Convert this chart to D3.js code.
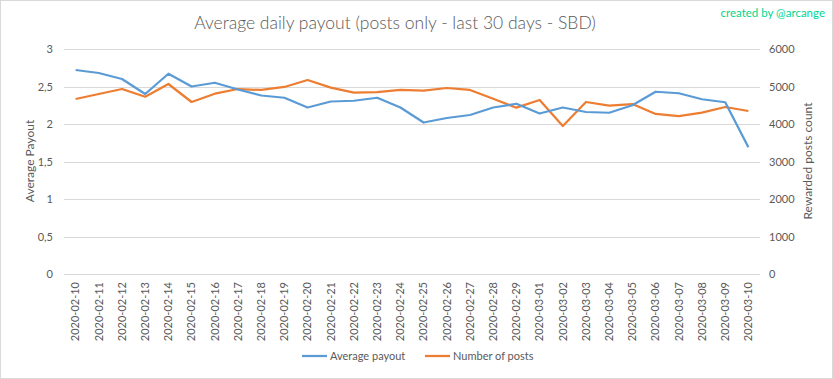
<!DOCTYPE html>
<html><head><meta charset="utf-8">
<script src="https://cdn.jsdelivr.net/npm/d3@7"></script>
<style>body{margin:0;background:#fff}svg{display:block;font-family:Lato,"Open Sans",sans-serif}</style>
</head><body><svg id="c" width="833" height="379"></svg>
<script>
const dates=["2020-02-10","2020-02-11","2020-02-12","2020-02-13","2020-02-14","2020-02-15","2020-02-16","2020-02-17","2020-02-18","2020-02-19","2020-02-20","2020-02-21","2020-02-22","2020-02-23","2020-02-24","2020-02-25","2020-02-26","2020-02-27","2020-02-28","2020-02-29","2020-03-01","2020-03-02","2020-03-03","2020-03-04","2020-03-05","2020-03-06","2020-03-07","2020-03-08","2020-03-09","2020-03-10"];
const avgPayout=[2.72,2.68,2.60,2.40,2.67,2.50,2.55,2.46,2.38,2.35,2.22,2.30,2.31,2.35,2.22,2.02,2.08,2.12,2.22,2.27,2.14,2.22,2.16,2.15,2.25,2.43,2.41,2.33,2.29,1.69];
const numPosts=[4667,4800,4933,4728,5067,4587,4808,4933,4907,4987,5173,4969,4835,4853,4907,4888,4960,4907,4675,4435,4640,3947,4587,4488,4533,4267,4213,4302,4453,4347];
const leftTicks=[0,0.5,1,1.5,2,2.5,3];
const rightTicks=[0,1000,2000,3000,4000,5000,6000];
const leftFmt=d=>String(d).replace(".",",");

const svg=d3.select("#c");
const L=64,R=760,T=49,B=274;
svg.append("rect").attr("x",0.5).attr("y",0.5).attr("width",832).attr("height",378).attr("fill","#fff").attr("stroke","#d9d9d9");
const x=d3.scaleBand().domain(dates).range([L,R]);
const yL=d3.scaleLinear().domain([0,3]).range([B,T]);
const yR=d3.scaleLinear().domain([0,6000]).range([B,T]);
const grey="#595959";
svg.append("g").selectAll("line").data(leftTicks).join("line")
 .attr("x1",L).attr("x2",R).attr("y1",d=>Math.round(yL(d))+0.5).attr("y2",d=>Math.round(yL(d))+0.5)
 .attr("stroke","#d9d9d9").attr("stroke-width",1);
const gl=svg.append("g").attr("transform",`translate(${L-8},0)`).call(d3.axisLeft(yL).tickValues(leftTicks).tickFormat(leftFmt).tickSize(0));
gl.select(".domain").remove();
gl.selectAll("text").attr("fill",grey).attr("font-size",11).attr("font-family","Lato,'Open Sans',sans-serif");
const gr=svg.append("g").attr("transform",`translate(${R+6},0)`).call(d3.axisRight(yR).tickValues(rightTicks).tickFormat(d3.format("d")).tickSize(0));
gr.select(".domain").remove();
gr.selectAll("text").attr("fill",grey).attr("font-size",11).attr("font-family","Lato,'Open Sans',sans-serif");
const gx=svg.append("g").attr("transform",`translate(0,${B})`).call(d3.axisBottom(x).tickSize(0));
gx.select(".domain").remove();
gx.selectAll("text").attr("fill",grey).attr("font-size",11).attr("font-family","Lato,'Open Sans',sans-serif")
 .attr("transform","rotate(-90)").attr("text-anchor","end").attr("dy","0.35em").attr("x",-8).attr("y",0);
const lineL=d3.line().x((d,i)=>x(dates[i])+x.bandwidth()/2).y(d=>yL(d));
const lineR=d3.line().x((d,i)=>x(dates[i])+x.bandwidth()/2).y(d=>yR(d));
svg.append("path").datum(numPosts).attr("d",lineR).attr("fill","none").attr("stroke","#ed7d31").attr("stroke-width",2.25).attr("stroke-linejoin","round");
svg.append("path").datum(avgPayout).attr("d",lineL).attr("fill","none").attr("stroke","#5b9bd5").attr("stroke-width",2.25).attr("stroke-linejoin","round");
svg.append("text").attr("x",395).attr("y",29).attr("text-anchor","middle").attr("font-size",17.5).attr("font-weight",300).attr("fill",grey).text("Average daily payout (posts only - last 30 days - SBD)");
svg.append("text").attr("x",825).attr("y",17).attr("text-anchor","end").attr("font-size",11.5).attr("fill","#00d68f").text("created by @arcange");
svg.append("text").attr("transform","translate(34,161) rotate(-90)").attr("text-anchor","middle").attr("font-size",12).attr("fill",grey).text("Average Payout");
svg.append("text").attr("transform","translate(812,161) rotate(-90)").attr("text-anchor","middle").attr("font-size",12).attr("fill",grey).text("Rewarded posts count");
const leg=[{n:"Average payout",c:"#5b9bd5",x:302},{n:"Number of posts",c:"#ed7d31",x:425}];
const lg=svg.append("g").selectAll("g").data(leg).join("g").attr("transform",d=>`translate(${d.x},356)`);
lg.append("line").attr("x1",0).attr("x2",25).attr("y1",0).attr("y2",0).attr("stroke",d=>d.c).attr("stroke-width",2.25);
lg.append("text").attr("x",28).attr("dy","0.35em").attr("font-size",11).attr("fill",grey).text(d=>d.n);
</script></body></html>
